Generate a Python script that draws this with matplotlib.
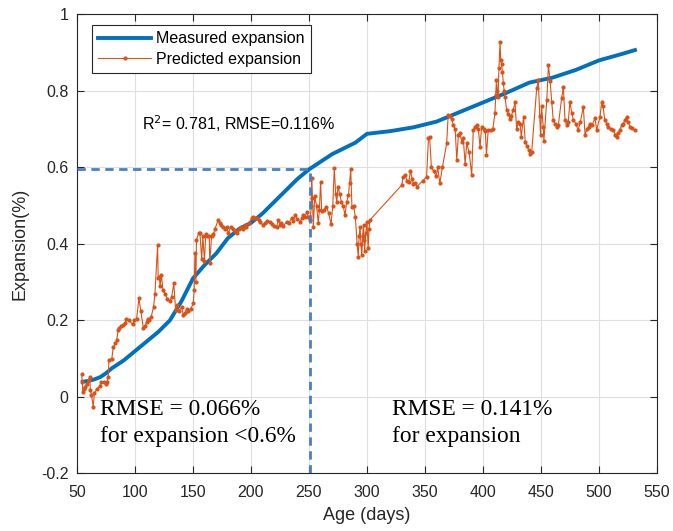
import numpy as np
import matplotlib
matplotlib.use("Agg")
import matplotlib.pyplot as plt

# ── measured expansion (smooth curve) ─────────────────────────────
meas_age = [55, 60, 65, 70, 75, 80, 90, 100, 110, 120, 130, 140, 150, 160,
            170, 180, 190, 200, 210, 220, 230, 240, 250, 260, 270, 280, 290,
            300, 320, 340, 360, 380, 400, 420, 440, 460, 480, 500, 520, 531]
meas_exp = [0.040, 0.042, 0.046, 0.052, 0.062, 0.075, 0.095, 0.120, 0.145,
            0.170, 0.200, 0.250, 0.310, 0.345, 0.375, 0.415, 0.440, 0.455,
            0.480, 0.510, 0.540, 0.570, 0.595, 0.615, 0.635, 0.650, 0.665,
            0.688, 0.695, 0.705, 0.720, 0.745, 0.770, 0.795, 0.822, 0.835,
            0.855, 0.880, 0.897, 0.907]

# ── predicted expansion (model output) ────────────────────────────
pred_age = [54.0, 54.5, 55.0, 56.0, 57.0, 58.5, 60.0, 61.0, 61.5, 62.5, 64.0,
            65.0, 67.0, 69.8, 71.0, 73.0, 75.0, 76.0, 77.0, 77.5, 80.0, 81.3,
            83.0, 84.2, 85.6, 86.5, 88.0, 90.0, 91.4, 92.5, 95.0, 97.9, 99.5,
            101.4, 103.4, 105.0, 107.2, 108.5, 110.0, 111.0, 112.5, 114.0,
            116.0, 117.2, 119.5, 120.0, 121.0, 121.6, 122.8, 124.0, 126.0,
            128.0, 130.0, 131.6, 133.5, 135.0, 136.5, 138.0, 140.2, 141.5,
            143.0, 144.5, 146.0, 148.0, 150.3, 151.0, 151.7, 152.5, 153.0,
            155.0, 156.0, 157.5, 158.5, 159.9, 161.0, 162.5, 164.0, 164.5,
            166.0, 167.5, 169.0, 171.8, 173.0, 174.5, 176.0, 177.5, 179.0,
            180.5, 182.5, 184.7, 186.0, 187.6, 190.0, 191.5, 193.4, 195.0,
            196.0, 198.0, 200.6, 202.0, 203.5, 205.0, 206.5, 208.0, 210.0,
            212.0, 214.0, 216.4, 218.0, 220.0, 222.0, 223.6, 225.0, 226.0,
            228.0, 230.8, 232.5, 235.0, 236.5, 238.0, 240.0, 242.4, 244.0,
            245.0, 246.5, 248.0, 249.5, 251.0, 252.0, 252.3, 253.0, 253.7,
            255.0, 256.5, 258.0, 259.0, 260.0, 261.0, 263.0, 265.0, 267.0,
            269.0, 270.5, 271.8, 273.0, 274.0, 275.0, 276.5, 278.0, 279.5,
            281.0, 282.5, 284.0, 285.0, 286.0, 287.0, 288.5, 290.0, 291.5,
            292.5, 293.2, 294.0, 294.8, 295.5, 296.2, 297.0, 297.5, 298.0,
            299.0, 300.0, 301.0, 301.8, 302.6, 330.0, 331.0, 333.0, 334.5,
            336.0, 337.5, 339.0, 340.0, 341.0, 343.0, 348.0, 351.4, 353.0,
            354.0, 355.5, 357.5, 359.7, 361.0, 362.8, 365.0, 368.7, 370.0,
            371.5, 373.0, 374.5, 376.0, 377.4, 378.8, 380.0, 381.7, 383.0,
            384.6, 386.0, 388.0, 390.3, 391.6, 393.0, 394.5, 396.0, 397.5,
            398.8, 400.5, 402.0, 403.0, 404.5, 406.5, 408.5, 410.3, 411.0,
            411.6, 412.3, 413.0, 413.8, 414.7, 415.3, 416.0, 416.8, 417.5,
            418.3, 419.0, 420.4, 421.8, 423.3, 424.5, 426.0, 427.6, 429.0,
            430.5, 432.0, 433.0, 435.0, 436.4, 438.0, 439.5, 440.5, 442.0,
            446.3, 447.7, 449.0, 449.6, 450.5, 451.9, 452.5, 455.0, 456.4,
            457.9, 459.3, 460.6, 462.0, 463.6, 465.0, 467.8, 469.3, 470.7,
            472.0, 473.5, 475.0, 476.5, 478.0, 480.0, 482.0, 484.0, 486.5,
            488.0, 489.5, 491.0, 492.5, 494.0, 496.6, 498.0, 500.9, 502.3,
            503.5, 505.0, 506.5, 508.0, 510.0, 512.4, 514.0, 515.2, 516.5,
            518.0, 519.5, 521.0, 522.5, 523.8, 525.0, 526.7, 528.5, 531.0]
pred_exp = [0.060, 0.040, 0.014, 0.020, 0.027, 0.035, 0.045, 0.053, 0.017,
            0.005, -0.025, 0.010, 0.020, 0.030, 0.040, 0.040, 0.035, 0.040,
            0.053, 0.097, 0.100, 0.130, 0.140, 0.149, 0.175, 0.180, 0.185,
            0.188, 0.193, 0.205, 0.200, 0.190, 0.200, 0.205, 0.258, 0.225,
            0.180, 0.185, 0.195, 0.205, 0.200, 0.210, 0.235, 0.270, 0.397,
            0.310, 0.315, 0.290, 0.320, 0.280, 0.270, 0.255, 0.250, 0.262,
            0.297, 0.228, 0.240, 0.225, 0.235, 0.215, 0.220, 0.230, 0.225,
            0.230, 0.245, 0.280, 0.376, 0.300, 0.410, 0.430, 0.428, 0.360,
            0.420, 0.356, 0.427, 0.420, 0.420, 0.350, 0.420, 0.425, 0.440,
            0.463, 0.455, 0.450, 0.445, 0.440, 0.445, 0.428, 0.445, 0.440,
            0.435, 0.430, 0.438, 0.445, 0.440, 0.450, 0.445, 0.455, 0.467,
            0.470, 0.468, 0.467, 0.462, 0.458, 0.450, 0.454, 0.460, 0.458,
            0.452, 0.447, 0.445, 0.462, 0.450, 0.454, 0.448, 0.458, 0.455,
            0.467, 0.460, 0.475, 0.465, 0.458, 0.468, 0.475, 0.470, 0.484,
            0.470, 0.462, 0.500, 0.572, 0.520, 0.445, 0.525, 0.500, 0.455,
            0.490, 0.563, 0.485, 0.490, 0.498, 0.480, 0.452, 0.500, 0.598,
            0.530, 0.510, 0.550, 0.530, 0.510, 0.500, 0.475, 0.510, 0.527,
            0.560, 0.595, 0.498, 0.500, 0.470, 0.400, 0.367, 0.420, 0.445,
            0.400, 0.370, 0.420, 0.450, 0.410, 0.382, 0.430, 0.458, 0.390,
            0.440, 0.463, 0.554, 0.575, 0.580, 0.565, 0.563, 0.590, 0.570,
            0.558, 0.559, 0.550, 0.565, 0.576, 0.676, 0.680, 0.602, 0.590,
            0.578, 0.600, 0.559, 0.600, 0.663, 0.737, 0.735, 0.728, 0.710,
            0.700, 0.620, 0.685, 0.690, 0.667, 0.676, 0.610, 0.663, 0.640,
            0.580, 0.698, 0.705, 0.710, 0.700, 0.653, 0.706, 0.700, 0.695,
            0.633, 0.698, 0.698, 0.700, 0.742, 0.790, 0.829, 0.800, 0.785,
            0.860, 0.929, 0.880, 0.870, 0.850, 0.820, 0.800, 0.785, 0.750,
            0.740, 0.728, 0.735, 0.750, 0.770, 0.700, 0.720, 0.715, 0.680,
            0.733, 0.667, 0.655, 0.645, 0.634, 0.640, 0.807, 0.829, 0.734,
            0.685, 0.760, 0.707, 0.670, 0.776, 0.868, 0.825, 0.770, 0.724,
            0.715, 0.707, 0.712, 0.781, 0.810, 0.724, 0.711, 0.720, 0.772,
            0.742, 0.724, 0.715, 0.698, 0.720, 0.759, 0.685, 0.700, 0.707,
            0.715, 0.711, 0.729, 0.698, 0.733, 0.772, 0.760, 0.724, 0.715,
            0.707, 0.700, 0.698, 0.685, 0.680, 0.690, 0.698, 0.710, 0.715,
            0.725, 0.733, 0.720, 0.707, 0.703, 0.698]

# threshold used for the split RMSE
THRESH_AGE = 251
THRESH_EXP = 0.597

x_ticks = [50, 100, 150, 200, 250, 300, 350, 400, 450, 500, 550]
y_ticks = [-0.2, 0, 0.2, 0.4, 0.6, 0.8, 1]

BLUE   = "#0072BD"
ORANGE = "#D95319"
DASH   = "#4A7EC7"
AXCOL  = "#262626"

plt.rcParams["font.family"] = ["Liberation Sans", "DejaVu Sans"]

fig = plt.figure(figsize=(6.73, 5.31), dpi=100)
ax = fig.add_axes([0.1144, 0.1083, 0.8618, 0.8644])

ax.plot(meas_age, meas_exp, color=BLUE, lw=2.8, label="Measured expansion",
        zorder=3)
ax.plot(pred_age, pred_exp, color=ORANGE, lw=0.8, marker=".", ms=4,
        label="Predicted expansion", zorder=4)

# dashed guide at the 0.6% expansion level
ax.plot([50, THRESH_AGE], [THRESH_EXP, THRESH_EXP], color=DASH, lw=2,
        ls=(0, (3, 2)), zorder=5)
ax.plot([THRESH_AGE, THRESH_AGE], [-0.2, THRESH_EXP], color=DASH, lw=2,
        ls=(0, (3, 2)), zorder=5)

ax.text(105.8, 0.698, r"R$^2$= 0.781, RMSE=0.116%", fontsize=11.5,
        color="black", va="baseline")

serif = ["Liberation Serif", "DejaVu Serif"]
ax.text(69.5, -0.047, "RMSE = 0.066%", family=serif, fontsize=16.8,
        va="baseline")
ax.text(69.5, -0.118, "for expansion <0.6%", family=serif, fontsize=16.8,
        va="baseline")
ax.text(321.6, -0.047, "RMSE = 0.141%", family=serif, fontsize=16.8,
        va="baseline")
ax.text(321.6, -0.118, "for expansion", family=serif, fontsize=16.8,
        va="baseline")

ax.set_xlim(50, 550)
ax.set_ylim(-0.2, 1)
ax.set_xticks(x_ticks)
ax.set_yticks(y_ticks)
ax.set_yticklabels(["-0.2", "0", "0.2", "0.4", "0.6", "0.8", "1"])
ax.grid(True, color="#DFDFDF", lw=0.8)
ax.set_axisbelow(True)
ax.tick_params(direction="in", top=True, right=True, length=5,
               labelsize=11.5, colors=AXCOL, width=0.8)
ax.tick_params(axis="x", pad=8)
ax.tick_params(axis="y", pad=6)
for sp in ax.spines.values():
    sp.set_color(AXCOL)
    sp.set_linewidth(0.8)

ax.set_xlabel("Age (days)", fontsize=13, color=AXCOL, labelpad=5)
ax.set_ylabel("Expansion(%)", fontsize=13, color=AXCOL, labelpad=9)

leg = ax.legend(loc="upper left", bbox_to_anchor=(0.026, 0.977),
                borderaxespad=0, fontsize=11.5, handlelength=3.3,
                fancybox=False, framealpha=1, edgecolor=AXCOL,
                borderpad=0.4, labelspacing=0.35, handletextpad=0.3)
leg.get_frame().set_linewidth(0.8)

fig.savefig("out.png", dpi=100)
